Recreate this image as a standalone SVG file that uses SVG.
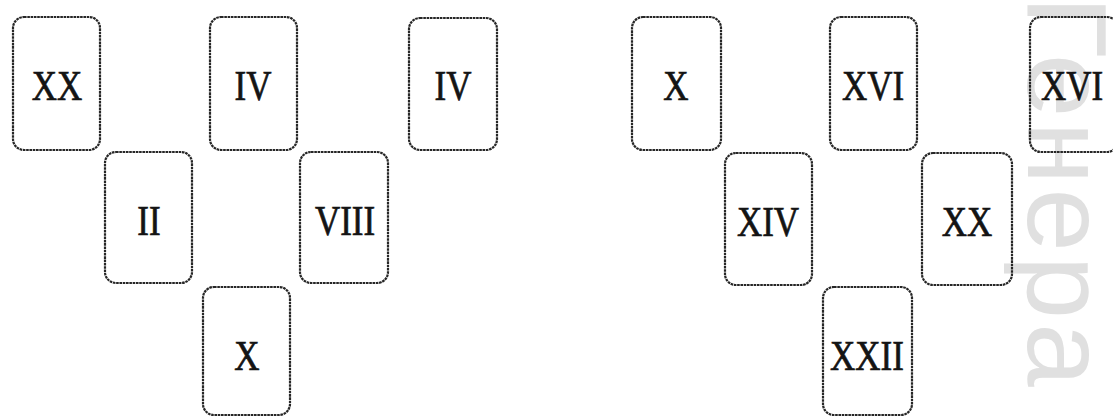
<svg xmlns="http://www.w3.org/2000/svg" width="1113" height="417" viewBox="0 0 1113 417">
<style>
.card{fill:none;stroke:#262626;stroke-width:2.2;stroke-dasharray:2.6 0.7}
.num{font-family:"Liberation Serif","Times New Roman",serif;font-size:35px;fill:#141414;stroke:#141414;stroke-width:0.6;text-anchor:middle}
.wm{font-family:"Liberation Sans",Arial,sans-serif;font-size:114px;letter-spacing:4px;fill:#e0e0e0}
</style>
<rect width="1113" height="417" fill="#ffffff"/>
<g id="watermark">
<text class="wm" transform="translate(1028,-4) rotate(90)">Генера</text>
</g>
<g id="left-set">
<g id="card-xx"><rect class="card" x="13" y="17" width="87" height="133" rx="11"/><text class="num" transform="translate(57,100) scale(1,1.2)">XX</text></g>
<g id="card-iv-1"><rect class="card" x="210" y="17" width="87" height="133" rx="11"/><text class="num" transform="translate(253,100) scale(1,1.2)">IV</text></g>
<g id="card-iv-2"><rect class="card" x="409" y="18" width="88" height="132" rx="11"/><text class="num" transform="translate(453,100) scale(1,1.2)">IV</text></g>
<g id="card-ii"><rect class="card" x="105" y="152" width="87" height="131" rx="11"/><text class="num" transform="translate(149,235) scale(1,1.2)">II</text></g>
<g id="card-viii"><rect class="card" x="300" y="152" width="88" height="131" rx="11"/><text class="num" transform="translate(345,235) scale(1,1.2)">VIII</text></g>
<g id="card-x-1"><rect class="card" x="203" y="287" width="87" height="128" rx="11"/><text class="num" transform="translate(247,370) scale(1,1.2)">X</text></g>
</g>
<g id="right-set">
<g id="card-x-2"><rect class="card" x="632" y="17" width="89" height="133" rx="11"/><text class="num" transform="translate(676,100) scale(1,1.2)">X</text></g>
<g id="card-xvi-1"><rect class="card" x="830" y="17" width="87" height="133" rx="11"/><text class="num" transform="translate(873,100) scale(1,1.2)">XVI</text></g>
<g id="card-xvi-2"><rect class="card" x="1030" y="17" width="88" height="135" rx="11"/><text class="num" transform="translate(1072,100) scale(1,1.2)">XVI</text></g>
<g id="card-xiv"><rect class="card" x="725" y="153" width="87" height="132" rx="11"/><text class="num" transform="translate(768,236) scale(1,1.2)">XIV</text></g>
<g id="card-xx-2"><rect class="card" x="922" y="153" width="90" height="132" rx="11"/><text class="num" transform="translate(967,236) scale(1,1.2)">XX</text></g>
<g id="card-xxii"><rect class="card" x="823" y="287" width="89" height="128" rx="11"/><text class="num" transform="translate(867,370) scale(1,1.2)">XXII</text></g>
</g>
</svg>
